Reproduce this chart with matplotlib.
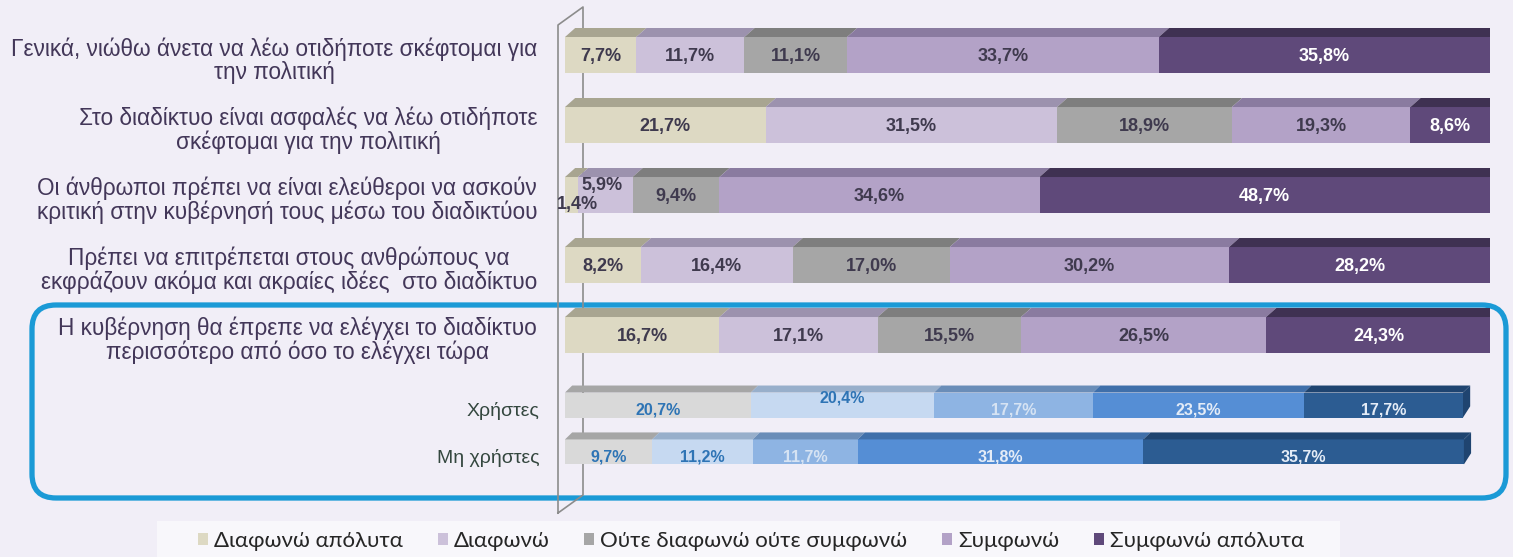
import matplotlib.pyplot as plt
from matplotlib.patches import Polygon, FancyBboxPatch, Patch, Rectangle

# data
questions = [
    "Γενικά, νιώθω άνετα να λέω οτιδήποτε σκέφτομαι για\nτην πολιτική",
    "Στο διαδίκτυο είναι ασφαλές να λέω οτιδήποτε\nσκέφτομαι για την πολιτική",
    "Οι άνθρωποι πρέπει να είναι ελεύθεροι να ασκούν\nκριτική στην κυβέρνησή τους μέσω του διαδικτύου",
    "Πρέπει να επιτρέπεται στους ανθρώπους να\nεκφράζουν ακόμα και ακραίες ιδέες  στο διαδίκτυο",
    "Η κυβέρνηση θα έπρεπε να ελέγχει το διαδίκτυο\nπερισσότερο από όσο το ελέγχει τώρα",
]
answers = ["Διαφωνώ απόλυτα", "Διαφωνώ", "Ούτε διαφωνώ ούτε συμφωνώ", "Συμφωνώ", "Συμφωνώ απόλυτα"]
values = [
    [7.7, 11.7, 11.1, 33.7, 35.8],
    [21.7, 31.5, 18.9, 19.3, 8.6],
    [1.4, 5.9, 9.4, 34.6, 48.7],
    [8.2, 16.4, 17.0, 30.2, 28.2],
    [16.7, 17.1, 15.5, 26.5, 24.3],
]
groups = ["Χρήστες", "Μη χρήστες"]
group_values = [
    [20.7, 20.4, 17.7, 23.5, 17.7],
    [9.7, 11.2, 11.7, 31.8, 35.7],
]

purple = ["#DDD9C3", "#CCC1DA", "#A6A6A6", "#B3A2C7", "#5F497A"]
purple_top = ["#A8A591", "#9C92AE", "#7E7E7E", "#8A7BA0", "#3F3152"]
purple_txt = ["#3F3A4E", "#3F3A4E", "#3F3A4E", "#3F3A4E", "white"]
blue = ["#D9D9D9", "#C6D9F1", "#8EB4E3", "#558ED5", "#2C5C92"]
blue_top = ["#A6A6A6", "#98AFCB", "#6A8DB8", "#3F6FAA", "#1F4470"]
blue_txt = ["#2E74B5", "#2E74B5", "#D6E3F3", "#E4ECF7", "#E4ECF7"]

bg = "#F1EEF7"
W, H = 1513, 557
fig = plt.figure(figsize=(W / 100, H / 100), dpi=100, facecolor=bg)
plt.rcParams['font.family'] = ['Liberation Sans', 'DejaVu Sans']

# canvas for frame, wall and legend box
ax0 = fig.add_axes([0, 0, 1, 1], zorder=0)
ax0.set_xlim(0, W)
ax0.set_ylim(H, 0)
ax0.axis('off')
ax0.add_patch(FancyBboxPatch((32, 305), 1474, 193, boxstyle="round,pad=0,rounding_size=24",
                             fill=False, ec="#1B9AD6", lw=3.8))
ax0.plot([558, 558, 583, 583, 558], [513, 25, 7, 495, 513], color="#8C8C8C", lw=1.2)
ax0.add_patch(Rectangle((157, 521), 1183, 40, fc="#F8F7FB", ec='none'))

ylim = (7.171, -0.7857)
x0 = 565 / W
wpx = 925 / W

ax1 = fig.add_axes([x0, 0, wpx, 1], zorder=1)
ax1.set_xlim(0, 100)
ax1.set_ylim(*ylim)
ax1.axis('off')

ax2 = fig.add_axes([x0, 0, wpx, 1], zorder=2)
ax2.set_xlim(0, 100 * 925 / 898)
ax2.set_ylim(*ylim)
ax2.axis('off')


def draw_row(ax, y, vals, cols, tops, h, dx, dy):
    left = 0
    for j, v in enumerate(vals):
        ax.barh(y, v, left=left, height=h, color=cols[j], edgecolor='none')
        t = y - h / 2
        ax.add_patch(Polygon([(left, t), (left + v, t), (left + v + dx, t - dy), (left + dx, t - dy)],
                             closed=True, fc=tops[j], ec='none'))
        left += v
    ax.add_patch(Polygon([(left, y - h / 2), (left + dx, y - h / 2 - dy),
                          (left + dx, y + h / 2 - dy * 1.6), (left, y + h / 2)],
                         closed=True, fc=tops[-1], ec='none'))


for i, (q, vals) in enumerate(zip(questions, values)):
    draw_row(ax1, i, vals, purple, purple_top, 36 / 70, 1.1, 9 / 70)
    ax1.text(-3.0, i + 0.08, q, ha='right', va='center', multialignment='center',
             fontsize=16.3, color="#433759", linespacing=1.02)
    left = 0
    for j, v in enumerate(vals):
        xc, yc = left + v / 2, i + 0.02
        if i == 2 and j == 0:
            xc, yc = left + v / 2 + 0.6, i + 0.13
        elif i == 2 and j == 1:
            xc, yc = left + v / 2 - 0.35, i - 0.14
        ax1.text(xc, yc, f"{v:.1f}%".replace('.', ','), ha='center', va='center',
                 fontsize=13, fontweight='bold', color=purple_txt[j])
        left += v

group_y = [5.0, 5.67]
for gy, g, vals in zip(group_y, groups, group_values):
    draw_row(ax2, gy, vals, blue, blue_top, 25 / 70, 0.8, 7 / 70)
    ax2.text(-2.8, gy + 0.08, g, ha='right', va='center', fontsize=14, color="#34473F")
    left = 0
    for j, v in enumerate(vals):
        yc = gy + 0.07
        if gy == group_y[0] and j == 1:
            yc = gy - 0.1
        ax2.text(left + v / 2, yc, f"{v:.1f}%".replace('.', ','), ha='center', va='center',
                 fontsize=11.5, fontweight='bold', color=blue_txt[j])
        left += v

handles = [Patch(facecolor=c, edgecolor='none') for c in purple]
leg = fig.legend(handles, answers, loc='center left', bbox_to_anchor=(198 / W, 1 - 541 / H), ncol=5,
                 frameon=False, borderpad=0, borderaxespad=0,
                 handlelength=0.45, handleheight=0.45, handletextpad=0.28, columnspacing=1.55,
                 prop={'family': 'Lato', 'size': 16})
for t in leg.get_texts():
    t.set_color("#262626")

fig.savefig("out.png", dpi=100, facecolor=bg)
